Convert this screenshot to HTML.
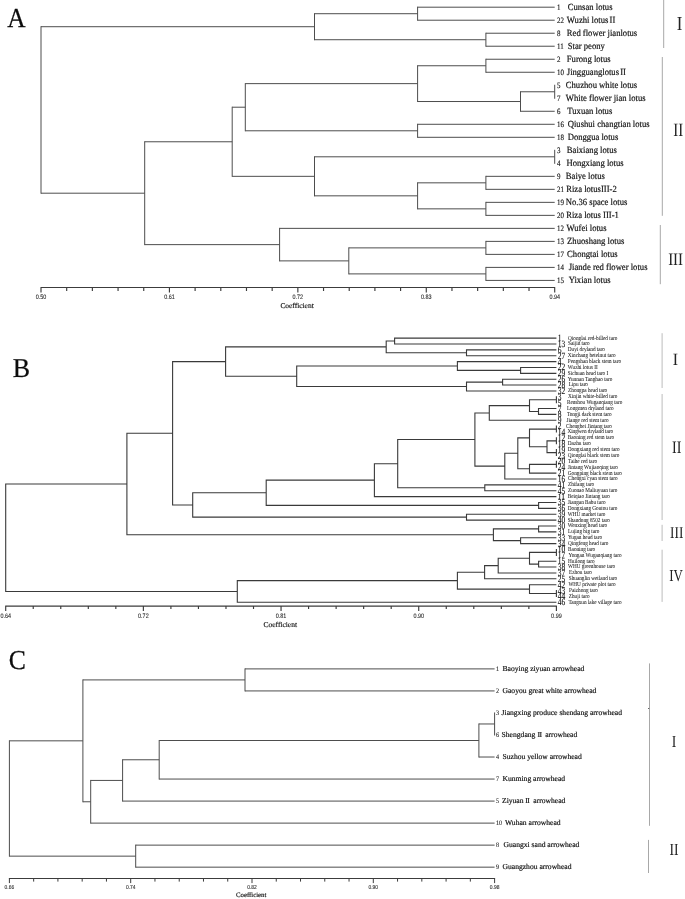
<!DOCTYPE html>
<html lang="en">
<head>
<meta charset="utf-8">
<title>Dendrograms A, B, C</title>
<style>
html,body{margin:0;padding:0;background:#fff;}
body{width:685px;height:899px;overflow:hidden;}
svg{display:block;filter:grayscale(1);}
text{font-family:"Liberation Serif","Noto Serif CJK SC",serif;fill:#1a1a1a;text-rendering:geometricPrecision;}
.ax{font-family:"Liberation Sans",sans-serif;fill:#2a2a2a;stroke:#2a2a2a;stroke-width:0.1px;}
.ti{fill:#1a1a1a;stroke:#1a1a1a;stroke-width:0.18px;}
.nm{fill:#111;stroke:#111;stroke-width:0.18px;}
.na{fill:#161616;stroke:#161616;stroke-width:0.15px;}
.nc{fill:#1c1c1c;stroke:#1c1c1c;stroke-width:0.1px;}
.nb{fill:#111;stroke:#111;stroke-width:0.12px;}
.mb{fill:#151515;stroke:#151515;stroke-width:0.05px;}
.rn{fill:#222;}
.pl{fill:#0c0c0c;stroke:#0c0c0c;stroke-width:0.25px;}
</style>
</head>
<body>
<svg width="685" height="899" viewBox="0 0 685 899">
<rect x="0" y="0" width="685" height="899" fill="#ffffff"/>
<path d="M417.6 6.7V20.71M417.6 7.2H554.7M417.6 20.21H554.7M485.9 32.72V46.73M485.9 33.22H554.7M485.9 46.23H554.7M314.5 13.21V40.23M314.5 13.71H417.6M314.5 39.73H485.9M485.9 58.74V72.75M485.9 59.24H554.7M485.9 72.25H554.7M554.7 84.76V98.77M520.5 91.27V111.78M520.5 91.77H554.7M520.5 111.28H554.7M417.6 65.25V102.02M417.6 65.75H485.9M417.6 101.52H520.5M417.6 123.79V137.8M417.6 124.29H554.7M417.6 137.3H554.7M245.3 83.13V131.29M245.3 83.63H417.6M245.3 130.79H417.6M554.7 149.81V163.82M485.9 175.83V189.84M485.9 176.33H554.7M485.9 189.34H554.7M485.9 201.85V215.86M485.9 202.35H554.7M485.9 215.36H554.7M417.6 182.33V209.35M417.6 182.83H485.9M417.6 208.85H485.9M314.5 156.31V196.34M314.5 156.81H554.7M314.5 195.84H417.6M232.2 106.71V176.83M232.2 107.21H245.3M232.2 176.33H314.5M485.9 240.88V254.89M485.9 241.38H554.7M485.9 254.39H554.7M485.9 266.9V280.91M485.9 267.4H554.7M485.9 280.41H554.7M348.8 247.38V274.4M348.8 247.88H485.9M348.8 273.9H485.9M279.6 227.87V261.39M279.6 228.37H554.7M279.6 260.89H348.8M144.7 141.27V245.13M144.7 141.77H232.2M144.7 244.63H279.6M41 26.21V193.7M41 26.71H314.5M41 193.2H144.7" fill="none" stroke="#4d4d4d" stroke-width="1"/>
<text transform="translate(557 9.85) scale(0.85 1)" class="na" font-size="8.2">1</text>
<text transform="translate(567.7 9.75) scale(0.92 1)" class="nm" font-size="9.4">Cunsan lotus</text>
<text transform="translate(557 22.86) scale(0.85 1)" class="na" font-size="8.2">22</text>
<text transform="translate(566.8 22.76) scale(0.92 1)" class="nm" font-size="9.4">Wuzhi lotus<tspan dx="1.3">II</tspan></text>
<text transform="translate(557 35.87) scale(0.85 1)" class="na" font-size="8.2">8</text>
<text transform="translate(566.8 35.77) scale(0.92 1)" class="nm" font-size="9.4">Red flower jianlotus</text>
<text transform="translate(557 48.88) scale(0.85 1)" class="na" font-size="8.2">11</text>
<text transform="translate(567.7 48.78) scale(0.92 1)" class="nm" font-size="9.4">Star peony</text>
<text transform="translate(557 61.89) scale(0.85 1)" class="na" font-size="8.2">2</text>
<text transform="translate(566.8 61.79) scale(0.92 1)" class="nm" font-size="9.4">Furong lotus</text>
<text transform="translate(557 74.9) scale(0.85 1)" class="na" font-size="8.2">10</text>
<text transform="translate(566.8 74.8) scale(0.92 1)" class="nm" font-size="9.4">Jingguanglotus<tspan dx="1.3">II</tspan></text>
<text transform="translate(557 87.91) scale(0.85 1)" class="na" font-size="8.2">5</text>
<text transform="translate(565.8 87.81) scale(0.92 1)" class="nm" font-size="9.4">Chuzhou white lotus</text>
<text transform="translate(557 100.92) scale(0.85 1)" class="na" font-size="8.2">7</text>
<text transform="translate(565.8 100.82) scale(0.92 1)" class="nm" font-size="9.4">White flower jian lotus</text>
<text transform="translate(557 113.93) scale(0.85 1)" class="na" font-size="8.2">6</text>
<text transform="translate(567.3 113.83) scale(0.92 1)" class="nm" font-size="9.4">Tuxuan lotus</text>
<text transform="translate(557 126.94) scale(0.85 1)" class="na" font-size="8.2">16</text>
<text transform="translate(567.7 126.84) scale(0.92 1)" class="nm" font-size="9.4">Qiushui changtian lotus</text>
<text transform="translate(557 139.95) scale(0.85 1)" class="na" font-size="8.2">18</text>
<text transform="translate(567.7 139.85) scale(0.92 1)" class="nm" font-size="9.4">Donggua lotus</text>
<text transform="translate(557 152.96) scale(0.85 1)" class="na" font-size="8.2">3</text>
<text transform="translate(566.8 152.86) scale(0.92 1)" class="nm" font-size="9.4">Baixiang lotus</text>
<text transform="translate(557 165.97) scale(0.85 1)" class="na" font-size="8.2">4</text>
<text transform="translate(566.4 165.87) scale(0.92 1)" class="nm" font-size="9.4">Hongxiang lotus</text>
<text transform="translate(557 178.98) scale(0.85 1)" class="na" font-size="8.2">9</text>
<text transform="translate(565.8 178.88) scale(0.92 1)" class="nm" font-size="9.4">Baiye lotus</text>
<text transform="translate(557 191.99) scale(0.85 1)" class="na" font-size="8.2">21</text>
<text transform="translate(566.2 191.89) scale(0.92 1)" class="nm" font-size="9.4">Riza lotusIII-2</text>
<text transform="translate(557 205) scale(0.85 1)" class="na" font-size="8.2">19</text>
<text transform="translate(565.8 204.9) scale(0.92 1)" class="nm" font-size="9.4">No.36 space lotus</text>
<text transform="translate(557 218.01) scale(0.85 1)" class="na" font-size="8.2">20</text>
<text transform="translate(566.2 217.91) scale(0.92 1)" class="nm" font-size="9.4">Riza lotus III-1</text>
<text transform="translate(557 231.02) scale(0.85 1)" class="na" font-size="8.2">12</text>
<text transform="translate(566.4 230.92) scale(0.92 1)" class="nm" font-size="9.4">Wufei lotus</text>
<text transform="translate(557 244.03) scale(0.85 1)" class="na" font-size="8.2">13</text>
<text transform="translate(567.1 243.93) scale(0.92 1)" class="nm" font-size="9.4">Zhuoshang lotus</text>
<text transform="translate(557 257.04) scale(0.85 1)" class="na" font-size="8.2">17</text>
<text transform="translate(567.1 256.94) scale(0.92 1)" class="nm" font-size="9.4">Chongtai lotus</text>
<text transform="translate(557 270.05) scale(0.85 1)" class="na" font-size="8.2">14</text>
<text transform="translate(568.7 269.95) scale(0.92 1)" class="nm" font-size="9.4">Jiande red flower lotus</text>
<text transform="translate(557 283.06) scale(0.85 1)" class="na" font-size="8.2">15</text>
<text transform="translate(568.7 282.96) scale(0.92 1)" class="nm" font-size="9.4">Yixian lotus</text>
<path d="M40.5 287.5H555.2M41 287.5V292.5M66.69 287.5V291M92.37 287.5V291M118.06 287.5V291M143.74 287.5V291M169.43 287.5V292.5M195.11 287.5V291M220.8 287.5V291M246.48 287.5V291M272.17 287.5V291M297.85 287.5V292.5M323.54 287.5V291M349.22 287.5V291M374.91 287.5V291M400.59 287.5V291M426.28 287.5V292.5M451.96 287.5V291M477.65 287.5V291M503.33 287.5V291M529.02 287.5V291M554.7 287.5V292.5" fill="none" stroke="#3c3c3c" stroke-width="1.15"/>
<text transform="translate(41 298.9) scale(0.85 1)" class="ax" font-size="6.4" text-anchor="middle">0.50</text>
<text transform="translate(169.43 298.9) scale(0.85 1)" class="ax" font-size="6.4" text-anchor="middle">0.61</text>
<text transform="translate(297.85 298.9) scale(0.85 1)" class="ax" font-size="6.4" text-anchor="middle">0.72</text>
<text transform="translate(426.28 298.9) scale(0.85 1)" class="ax" font-size="6.4" text-anchor="middle">0.83</text>
<text transform="translate(554.7 298.9) scale(0.85 1)" class="ax" font-size="6.4" text-anchor="middle">0.94</text>
<text x="297.05" y="308.1" class="ti" font-size="7.45" text-anchor="middle">Coefficient</text>
<path d="M663.7 0V48" fill="none" stroke="#a8a8a8" stroke-width="1"/>
<text transform="translate(679.5 29.9) scale(0.85 1)" class="rn" font-size="19.8" text-anchor="middle">I</text>
<path d="M662.3 57V215.8" fill="none" stroke="#a8a8a8" stroke-width="1"/>
<text transform="translate(678.25 136.3) scale(0.79 1)" class="rn" font-size="18.9" text-anchor="middle">II</text>
<path d="M660.3 225V284.2" fill="none" stroke="#a8a8a8" stroke-width="1"/>
<text transform="translate(675.6 264.6) scale(0.85 1)" class="rn" font-size="17.6" text-anchor="middle">III</text>
<text transform="translate(7.3 27.35) scale(0.93 1)" class="pl" font-size="27.3">A</text>
<path d="M394.6 337.55V344.52M394.6 338.1H556.4M394.6 343.97H556.4M466.5 349.29V356.26M466.5 349.84H556.4M466.5 355.71H556.4M386.2 340.49V353.33M386.2 341.04H394.6M386.2 352.78H466.5M520.6 366.91V373.88M520.6 367.46H556.4M520.6 373.33H556.4M457.4 361.03V370.94M457.4 361.58H556.4M457.4 370.39H520.6M502.6 378.65V385.62M502.6 379.2H556.4M502.6 385.07H556.4M466.5 381.58V391.49M466.5 382.13H502.6M466.5 390.94H556.4M296.7 365.44V387.09M296.7 365.99H457.4M296.7 386.54H466.5M225.6 346.36V376.81M225.6 346.91H386.2M225.6 376.26H296.7M556.4 396.26V403.23M538.5 408V414.97M538.5 408.55H556.4M538.5 414.42H556.4M529.5 399.2V412.04M529.5 399.75H556.4M529.5 411.49H538.5M489.3 405.07V420.84M489.3 405.62H529.5M489.3 420.29H556.4M556.4 425.62V432.59M556.4 437.36V444.33M556.4 449.1V456.07M547 440.29V453.13M547 440.84H556.4M547 452.58H556.4M529.5 428.55V447.26M529.5 429.1H556.4M529.5 446.71H547M556.4 460.84V467.81M529.5 463.78V473.68M529.5 464.33H556.4M529.5 473.13H556.4M517.8 437.36V469.28M517.8 437.91H529.5M517.8 468.73H529.5M504.8 452.77V479.55M504.8 453.32H517.8M504.8 479H556.4M474.9 412.41V466.71M474.9 412.96H489.3M474.9 466.16H504.8M484.8 484.32V491.3M484.8 484.88H556.4M484.8 490.75H556.4M397.7 439.01V488.36M397.7 439.56H474.9M397.7 487.81H484.8M374.4 463.13V497.17M374.4 463.68H397.7M374.4 496.62H556.4M538.6 501.94V508.91M538.6 502.49H556.4M538.6 508.36H556.4M266.2 479.6V505.97M266.2 480.15H374.4M266.2 505.42H538.6M466.5 513.68V520.65M466.5 514.23H556.4M466.5 520.1H556.4M192.7 492.24V517.72M192.7 492.79H266.2M192.7 517.17H466.5M172.6 361.03V505.53M172.6 361.58H225.6M172.6 504.98H192.7M538.6 525.42V532.39M538.6 525.97H556.4M538.6 531.84H556.4M520.6 537.16V544.13M520.6 537.71H556.4M520.6 543.59H556.4M493.4 528.36V541.2M493.4 528.91H538.6M493.4 540.65H520.6M126.9 432.73V535.33M126.9 433.28H172.6M126.9 534.78H493.4M556.4 548.91V555.88M538.6 560.65V567.62M538.6 561.2H556.4M538.6 567.07H556.4M529.5 551.84V564.68M529.5 552.39H556.4M529.5 564.13H538.6M498.2 557.71V573.49M498.2 558.26H529.5M498.2 572.94H556.4M484.6 565.05V579.36M484.6 565.6H498.2M484.6 578.81H556.4M556.4 590V596.97M529.5 584.13V594.04M529.5 584.68H556.4M529.5 593.49H556.4M457.4 571.66V589.64M457.4 572.21H484.6M457.4 589.09H529.5M237.3 580.1V602.85M237.3 580.65H457.4M237.3 602.3H556.4M5.7 483.48V592.02M5.7 484.03H126.9M5.7 591.47H237.3" fill="none" stroke="#3a3a3a" stroke-width="1.1"/>
<text transform="translate(557.8 341.1) scale(0.78 1)" class="nb" font-size="9.6">1</text>
<text transform="translate(568.1 339.5) scale(0.85 1)" class="mb" font-size="6.15">Qionglai red-billed taro</text>
<text transform="translate(557.8 346.97) scale(0.78 1)" class="nb" font-size="9.6">13</text>
<text transform="translate(568.1 345.37) scale(0.85 1)" class="mb" font-size="6.15">Saijin taro</text>
<text transform="translate(557.8 352.84) scale(0.78 1)" class="nb" font-size="9.6">6</text>
<text transform="translate(567.8 351.24) scale(0.85 1)" class="mb" font-size="6.15">Duyi dryland taro</text>
<text transform="translate(557.8 358.71) scale(0.78 1)" class="nb" font-size="9.6">27</text>
<text transform="translate(567.8 357.11) scale(0.85 1)" class="mb" font-size="6.15">Xinchang betelnut taro</text>
<text transform="translate(557.8 364.58) scale(0.78 1)" class="nb" font-size="9.6">4</text>
<text transform="translate(567.8 362.98) scale(0.85 1)" class="mb" font-size="6.15">Pengshan black stem taro</text>
<text transform="translate(557.8 370.46) scale(0.78 1)" class="nb" font-size="9.6">22</text>
<text transform="translate(567.8 368.86) scale(0.85 1)" class="mb" font-size="6.15">Wuzhi lotus II</text>
<text transform="translate(557.8 376.33) scale(0.78 1)" class="nb" font-size="9.6">29</text>
<text transform="translate(567.8 374.73) scale(0.85 1)" class="mb" font-size="6.15">Sichuan head taro I</text>
<text transform="translate(557.8 382.2) scale(0.78 1)" class="nb" font-size="9.6">26</text>
<text transform="translate(567.8 380.6) scale(0.85 1)" class="mb" font-size="6.15">Yunnan Tanghao taro</text>
<text transform="translate(557.8 388.07) scale(0.78 1)" class="nb" font-size="9.6">28</text>
<text transform="translate(568.7 386.47) scale(0.85 1)" class="mb" font-size="6.15">Lipu taro</text>
<text transform="translate(557.8 393.94) scale(0.78 1)" class="nb" font-size="9.6">32</text>
<text transform="translate(568.1 392.34) scale(0.85 1)" class="mb" font-size="6.15">Zhongpa head taro</text>
<text transform="translate(557.8 399.81) scale(0.78 1)" class="nb" font-size="9.6">3</text>
<text transform="translate(568.1 398.21) scale(0.85 1)" class="mb" font-size="6.15">Xinjin white-billed taro</text>
<text transform="translate(557.8 405.68) scale(0.78 1)" class="nb" font-size="9.6">5</text>
<text transform="translate(566.9 404.08) scale(0.85 1)" class="mb" font-size="6.15">Renshou Wuganqiang taro</text>
<text transform="translate(557.8 411.55) scale(0.78 1)" class="nb" font-size="9.6">7</text>
<text transform="translate(566.9 409.95) scale(0.85 1)" class="mb" font-size="6.15">Longmen dryland taro</text>
<text transform="translate(557.8 417.42) scale(0.78 1)" class="nb" font-size="9.6">8</text>
<text transform="translate(566.9 415.82) scale(0.85 1)" class="mb" font-size="6.15">Tongji dark stem taro</text>
<text transform="translate(557.8 423.29) scale(0.78 1)" class="nb" font-size="9.6">9</text>
<text transform="translate(566.6 421.69) scale(0.85 1)" class="mb" font-size="6.15">Jiange red stem taro</text>
<text transform="translate(557.8 429.17) scale(0.78 1)" class="nb" font-size="9.6">2</text>
<text transform="translate(566.1 427.56) scale(0.85 1)" class="mb" font-size="6.15">Chengbei Jintang taro</text>
<text transform="translate(557.8 435.04) scale(0.78 1)" class="nb" font-size="9.6">14</text>
<text transform="translate(567.4 433.44) scale(0.85 1)" class="mb" font-size="6.15">Xingwen dryland taro</text>
<text transform="translate(557.8 440.91) scale(0.78 1)" class="nb" font-size="9.6">12</text>
<text transform="translate(567.8 439.31) scale(0.85 1)" class="mb" font-size="6.15">Baoning red stem taro</text>
<text transform="translate(557.8 446.78) scale(0.78 1)" class="nb" font-size="9.6">18</text>
<text transform="translate(567.8 445.18) scale(0.85 1)" class="mb" font-size="6.15">Dazhu taro</text>
<text transform="translate(557.8 452.65) scale(0.78 1)" class="nb" font-size="9.6">19</text>
<text transform="translate(567.8 451.05) scale(0.85 1)" class="mb" font-size="6.15">Dongxiang red stem taro</text>
<text transform="translate(557.8 458.52) scale(0.78 1)" class="nb" font-size="9.6">23</text>
<text transform="translate(567.8 456.92) scale(0.85 1)" class="mb" font-size="6.15">Qionglai black stem taro</text>
<text transform="translate(557.8 464.39) scale(0.78 1)" class="nb" font-size="9.6">20</text>
<text transform="translate(568.1 462.79) scale(0.85 1)" class="mb" font-size="6.15">Taihe red taro</text>
<text transform="translate(557.8 470.26) scale(0.78 1)" class="nb" font-size="9.6">24</text>
<text transform="translate(567.8 468.66) scale(0.85 1)" class="mb" font-size="6.15">Jintang Wujiaoqing taro</text>
<text transform="translate(557.8 476.13) scale(0.78 1)" class="nb" font-size="9.6">21</text>
<text transform="translate(567.8 474.53) scale(0.85 1)" class="mb" font-size="6.15">Gongping black stem taro</text>
<text transform="translate(557.8 482) scale(0.78 1)" class="nb" font-size="9.6">16</text>
<text transform="translate(568.1 480.4) scale(0.85 1)" class="mb" font-size="6.15">Chengxi cyan stem taro</text>
<text transform="translate(557.8 487.88) scale(0.78 1)" class="nb" font-size="9.6">41</text>
<text transform="translate(568.1 486.27) scale(0.85 1)" class="mb" font-size="6.15">Zhifang taro</text>
<text transform="translate(557.8 493.75) scale(0.78 1)" class="nb" font-size="9.6">45</text>
<text transform="translate(568.1 492.15) scale(0.85 1)" class="mb" font-size="6.15">Zuonao Maliuyuan taro</text>
<text transform="translate(557.8 499.62) scale(0.78 1)" class="nb" font-size="9.6">11</text>
<text transform="translate(567.8 498.02) scale(0.85 1)" class="mb" font-size="6.15">Beiqiao Jintang taro</text>
<text transform="translate(557.8 505.49) scale(0.78 1)" class="nb" font-size="9.6">35</text>
<text transform="translate(567.8 503.89) scale(0.85 1)" class="mb" font-size="6.15">Jiangan Babu taro</text>
<text transform="translate(557.8 511.36) scale(0.78 1)" class="nb" font-size="9.6">36</text>
<text transform="translate(567.8 509.76) scale(0.85 1)" class="mb" font-size="6.15">Dongxiang Goutou taro</text>
<text transform="translate(557.8 517.23) scale(0.78 1)" class="nb" font-size="9.6">39</text>
<text transform="translate(567.8 515.63) scale(0.85 1)" class="mb" font-size="6.15">WHU market taro</text>
<text transform="translate(557.8 523.1) scale(0.78 1)" class="nb" font-size="9.6">40</text>
<text transform="translate(567.8 521.5) scale(0.85 1)" class="mb" font-size="6.15">Shandong 8502 taro</text>
<text transform="translate(557.8 528.97) scale(0.78 1)" class="nb" font-size="9.6">30</text>
<text transform="translate(567.8 527.37) scale(0.85 1)" class="mb" font-size="6.15">Wenxing head taro</text>
<text transform="translate(557.8 534.84) scale(0.78 1)" class="nb" font-size="9.6">31</text>
<text transform="translate(568.1 533.24) scale(0.85 1)" class="mb" font-size="6.15">Lujing big taro</text>
<text transform="translate(557.8 540.71) scale(0.78 1)" class="nb" font-size="9.6">33</text>
<text transform="translate(568.1 539.11) scale(0.85 1)" class="mb" font-size="6.15">Yugan head taro</text>
<text transform="translate(557.8 546.59) scale(0.78 1)" class="nb" font-size="9.6">34</text>
<text transform="translate(568.1 544.99) scale(0.85 1)" class="mb" font-size="6.15">Qingfeng head taro</text>
<text transform="translate(557.8 552.46) scale(0.78 1)" class="nb" font-size="9.6">10</text>
<text transform="translate(568.1 550.86) scale(0.85 1)" class="mb" font-size="6.15">Baoning taro</text>
<text transform="translate(557.8 558.33) scale(0.78 1)" class="nb" font-size="9.6">17</text>
<text transform="translate(568.4 556.73) scale(0.85 1)" class="mb" font-size="6.15">Yongan Wuganqiang taro</text>
<text transform="translate(557.8 564.2) scale(0.78 1)" class="nb" font-size="9.6">15</text>
<text transform="translate(568.1 562.6) scale(0.85 1)" class="mb" font-size="6.15">Huilong taro</text>
<text transform="translate(557.8 570.07) scale(0.78 1)" class="nb" font-size="9.6">38</text>
<text transform="translate(568.1 568.47) scale(0.85 1)" class="mb" font-size="6.15">WHU greenhouse taro</text>
<text transform="translate(557.8 575.94) scale(0.78 1)" class="nb" font-size="9.6">37</text>
<text transform="translate(569.1 574.34) scale(0.85 1)" class="mb" font-size="6.15">Ezhou taro</text>
<text transform="translate(557.8 581.81) scale(0.78 1)" class="nb" font-size="9.6">25</text>
<text transform="translate(568.8 580.21) scale(0.85 1)" class="mb" font-size="6.15">Shuanglin wetland taro</text>
<text transform="translate(557.8 587.68) scale(0.78 1)" class="nb" font-size="9.6">42</text>
<text transform="translate(568.4 586.08) scale(0.85 1)" class="mb" font-size="6.15">WHU private plot taro</text>
<text transform="translate(557.8 593.55) scale(0.78 1)" class="nb" font-size="9.6">43</text>
<text transform="translate(569.1 591.95) scale(0.85 1)" class="mb" font-size="6.15">Paizhong taro</text>
<text transform="translate(557.8 599.42) scale(0.78 1)" class="nb" font-size="9.6">44</text>
<text transform="translate(568.8 597.82) scale(0.85 1)" class="mb" font-size="6.15">Zhuji taro</text>
<text transform="translate(557.8 605.3) scale(0.78 1)" class="nb" font-size="9.6">46</text>
<text transform="translate(568.4 603.7) scale(0.85 1)" class="mb" font-size="6.15">Tangxun lake village taro</text>
<path d="M5.2 606.1H556.9M5.7 606.1V611M33.23 606.1V609M60.77 606.1V609M88.3 606.1V609M115.84 606.1V609M143.37 606.1V611M170.91 606.1V609M198.44 606.1V609M225.98 606.1V609M253.51 606.1V609M281.05 606.1V611M308.58 606.1V609M336.12 606.1V609M363.65 606.1V609M391.19 606.1V609M418.72 606.1V611M446.26 606.1V609M473.79 606.1V609M501.33 606.1V609M528.87 606.1V609M556.4 606.1V611" fill="none" stroke="#3c3c3c" stroke-width="1.15"/>
<text transform="translate(5.7 617.5) scale(0.85 1)" class="ax" font-size="6.4" text-anchor="middle">0.64</text>
<text transform="translate(143.37 617.5) scale(0.85 1)" class="ax" font-size="6.4" text-anchor="middle">0.72</text>
<text transform="translate(281.05 617.5) scale(0.85 1)" class="ax" font-size="6.4" text-anchor="middle">0.81</text>
<text transform="translate(418.72 617.5) scale(0.85 1)" class="ax" font-size="6.4" text-anchor="middle">0.90</text>
<text transform="translate(556.4 617.5) scale(0.85 1)" class="ax" font-size="6.4" text-anchor="middle">0.99</text>
<text x="280.25" y="626.7" class="ti" font-size="7.5" text-anchor="middle">Coefficient</text>
<path d="M662.1 333.2V388" fill="none" stroke="#bcbcbc" stroke-width="1"/>
<text transform="translate(675.5 364.6) scale(0.92 1)" class="rn" font-size="17.3" text-anchor="middle">I</text>
<path d="M662.1 394V520" fill="none" stroke="#bcbcbc" stroke-width="1"/>
<text transform="translate(676.7 453.2) scale(0.8 1)" class="rn" font-size="17.6" text-anchor="middle">II</text>
<path d="M662.1 524.8V541" fill="none" stroke="#bcbcbc" stroke-width="1"/>
<text transform="translate(676.7 537.5) scale(0.8 1)" class="rn" font-size="16.6" text-anchor="middle">III</text>
<path d="M662.1 549.7V601.9" fill="none" stroke="#bcbcbc" stroke-width="1"/>
<text transform="translate(676 580.6) scale(0.77 1)" class="rn" font-size="16.8" text-anchor="middle">IV</text>
<text transform="translate(12.7 377) scale(0.95 1)" class="pl" font-size="27.3">B</text>
<path d="M245 668.4V691.43M245 668.9H494.6M245 690.93H494.6M494.6 712.46V735.49M478.9 723.48V757.52M478.9 723.98H494.6M478.9 757.02H494.6M159.2 740V779.55M159.2 740.5H478.9M159.2 779.05H494.6M122.6 759.27V801.58M122.6 759.77H159.2M122.6 801.08H494.6M90.7 779.93V823.61M90.7 780.43H122.6M90.7 823.11H494.6M82.9 679.41V802.27M82.9 679.91H245M82.9 801.77H90.7M135.7 844.64V867.67M135.7 845.14H494.6M135.7 867.17H494.6M9.4 740.34V856.65M9.4 740.84H82.9M9.4 856.15H135.7" fill="none" stroke="#4d4d4d" stroke-width="1"/>
<text transform="translate(495.9 671.2) scale(0.9 1)" class="nc" font-size="6.8">1</text>
<text x="502.5" y="671" class="nm" font-size="7.6">Baoying ziyuan arrowhead</text>
<text transform="translate(495.9 693.23) scale(0.9 1)" class="nc" font-size="6.8">2</text>
<text x="502.5" y="693.03" class="nm" font-size="7.6">Gaoyou great white arrowhead</text>
<text transform="translate(495.9 715.26) scale(0.9 1)" class="nc" font-size="6.8">3</text>
<text x="501.6" y="715.06" class="nm" font-size="7.6">Jiangxing produce shendang arrowhead</text>
<text transform="translate(495.9 737.29) scale(0.9 1)" class="nc" font-size="6.8">6</text>
<text x="501.6" y="737.09" class="nm" font-size="7.6">Shengdang<tspan dx="2.1" letter-spacing="-0.5">II</tspan><tspan dx="3.7">arrowhead</tspan></text>
<text transform="translate(495.9 759.32) scale(0.9 1)" class="nc" font-size="6.8">4</text>
<text x="502.5" y="759.12" class="nm" font-size="7.6">Suzhou yellow arrowhead</text>
<text transform="translate(495.9 781.35) scale(0.9 1)" class="nc" font-size="6.8">7</text>
<text x="502.5" y="781.15" class="nm" font-size="7.6">Kunming arrowhead</text>
<text transform="translate(495.9 803.38) scale(0.9 1)" class="nc" font-size="6.8">5</text>
<text x="502" y="803.18" class="nm" font-size="7.6">Ziyuan<tspan dx="1.8" letter-spacing="-0.5">II</tspan><tspan dx="3.9">arrowhead</tspan></text>
<text transform="translate(495.9 825.41) scale(0.9 1)" class="nc" font-size="6.8">10</text>
<text x="505" y="825.21" class="nm" font-size="7.6">Wuhan arrowhead</text>
<text transform="translate(495.9 847.44) scale(0.9 1)" class="nc" font-size="6.8">8</text>
<text x="503.5" y="847.24" class="nm" font-size="7.6">Guangxi sand arrowhead</text>
<text transform="translate(495.9 869.47) scale(0.9 1)" class="nc" font-size="6.8">9</text>
<text x="502.5" y="869.27" class="nm" font-size="7.6">Guangzhou arrowhead</text>
<path d="M8.9 878.5H495.1M9.4 878.5V883.1M33.66 878.5V881.6M57.92 878.5V881.6M82.18 878.5V881.6M106.44 878.5V881.6M130.7 878.5V883.1M154.96 878.5V881.6M179.22 878.5V881.6M203.48 878.5V881.6M227.74 878.5V881.6M252 878.5V883.1M276.26 878.5V881.6M300.52 878.5V881.6M324.78 878.5V881.6M349.04 878.5V881.6M373.3 878.5V883.1M397.56 878.5V881.6M421.82 878.5V881.6M446.08 878.5V881.6M470.34 878.5V881.6M494.6 878.5V883.1" fill="none" stroke="#3c3c3c" stroke-width="1"/>
<text transform="translate(9.4 888.9) scale(0.85 1)" class="ax" font-size="5.8" text-anchor="middle">0.66</text>
<text transform="translate(130.7 888.9) scale(0.85 1)" class="ax" font-size="5.8" text-anchor="middle">0.74</text>
<text transform="translate(252 888.9) scale(0.85 1)" class="ax" font-size="5.8" text-anchor="middle">0.82</text>
<text transform="translate(373.3 888.9) scale(0.85 1)" class="ax" font-size="5.8" text-anchor="middle">0.90</text>
<text transform="translate(494.6 888.9) scale(0.85 1)" class="ax" font-size="5.8" text-anchor="middle">0.98</text>
<text x="251.2" y="897.4" class="ti" font-size="6.75" text-anchor="middle">Coefficient</text>
<path d="M649.5 663.4V825.8" fill="none" stroke="#a8a8a8" stroke-width="1"/>
<text transform="translate(674 747.2) scale(0.8 1)" class="rn" font-size="17" text-anchor="middle">I</text>
<path d="M648.5 839.9V873" fill="none" stroke="#a8a8a8" stroke-width="1"/>
<text transform="translate(674 854.6) scale(0.8 1)" class="rn" font-size="17" text-anchor="middle">II</text>
<text transform="translate(8.8 668.9) scale(0.94 1)" class="pl" font-size="27.3">C</text>
<rect x="648" y="708" width="1.2" height="1" fill="#666"/>
</svg>
</body>
</html>
